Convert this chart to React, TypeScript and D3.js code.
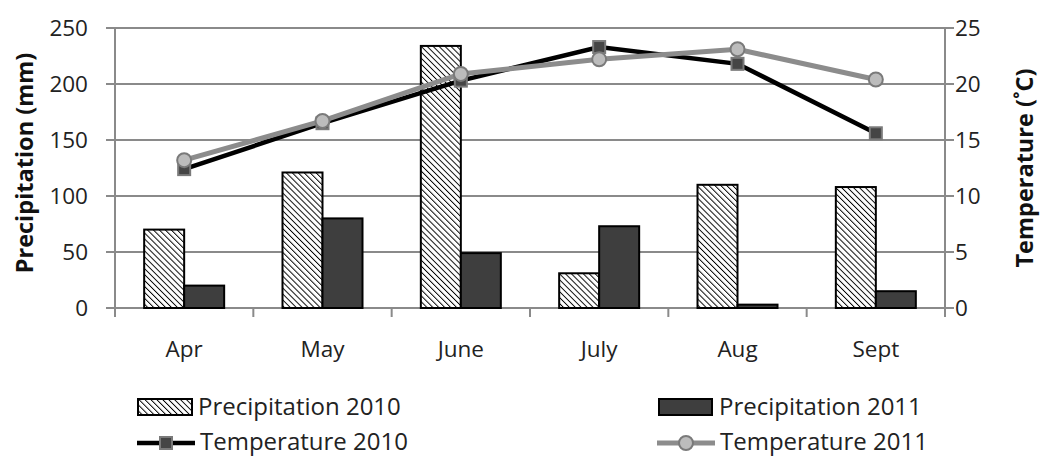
import React from "react";
import * as d3 from "d3";

const months = ["Apr", "May", "June", "July", "Aug", "Sept"];
const precip2010 = [70, 121, 234, 31, 110, 108];
const precip2011 = [20, 80, 49, 73, 3, 15];
const temp2010 = [12.4, 16.5, 20.3, 23.3, 21.8, 15.6];
const temp2011 = [13.2, 16.7, 20.9, 22.2, 23.1, 20.4];
const precipTicks = [0, 50, 100, 150, 200, 250];
const tempTicks = [0, 5, 10, 15, 20, 25];

const W = 1040, H = 456;
const L = 115, R = 945, T = 28, B = 308;
const FONT = "'Open Sans', Lato, 'Liberation Sans', sans-serif";

export default function App() {
  const x = d3.scaleBand<string>().domain(months).range([L, R]);
  const yP = d3.scaleLinear().domain([0, 250]).range([B, T]);
  const yT = d3.scaleLinear().domain([0, 25]).range([B, T]);
  const bw = 40;
  const cx = (m: string) => (x(m) as number) + x.bandwidth() / 2;
  const line = d3.line<number>().x((_, i) => cx(months[i])).y((d) => yT(d));

  return (
    <svg width={W} height={H} style={{ position: "absolute", left: 0, top: 0 }} fontFamily={FONT}>
      <defs>
        <pattern id="hatch" patternUnits="userSpaceOnUse" width="4.2" height="4.2" patternTransform="rotate(-45)">
          <rect width="4.2" height="4.2" fill="#fff" />
          <line x1="0" y1="0" x2="0" y2="4.2" stroke="#000" strokeWidth="1.9" />
        </pattern>
      </defs>
      <rect width={W} height={H} fill="#fff" />
      {/* gridlines */}
      {precipTicks.map((t) => (
        <line key={t} x1={L - 9} x2={R + 9} y1={yP(t)} y2={yP(t)} stroke="#8a8a8a" strokeWidth={2} />
      ))}
      <line x1={L} x2={L} y1={T} y2={B} stroke="#8a8a8a" strokeWidth={2} />
      <line x1={R} x2={R} y1={T} y2={B} stroke="#8a8a8a" strokeWidth={2} />
      {d3.range(months.length + 1).map((i) => {
        const xx = L + i * x.step();
        return <line key={i} x1={xx} x2={xx} y1={B} y2={B + 9} stroke="#8a8a8a" strokeWidth={2} />;
      })}
      {/* ticks */}
      {precipTicks.map((t) => (
        <text key={t} x={L - 27} y={yP(t)} dy="0.36em" textAnchor="end" fontSize={22.5} fill="#222">{t}</text>
      ))}
      {tempTicks.map((t) => (
        <text key={t} x={R + 10} y={yT(t)} dy="0.36em" textAnchor="start" fontSize={22.5} fill="#222">{t}</text>
      ))}
      {months.map((m) => (
        <text key={m} x={cx(m)} y={357} textAnchor="middle" fontSize={22.5} fill="#222">{m}</text>
      ))}
      <text transform={`translate(33,${163}) rotate(-90)`} textAnchor="middle" fontSize={23.5} fontWeight="bold" fill="#111">Precipitation (mm)</text>
      <text transform={`translate(1033,${168}) rotate(-90)`} textAnchor="middle" fontSize={23.5} fontWeight="bold" fill="#111">Temperature (˚C)</text>
      {/* bars */}
      {months.map((m, i) => (
        <g key={m}>
          <rect x={cx(m) - bw} y={yP(precip2010[i])} width={bw} height={B - yP(precip2010[i])} fill="url(#hatch)" stroke="#000" strokeWidth={2} />
          <rect x={cx(m)} y={yP(precip2011[i])} width={bw} height={B - yP(precip2011[i])} fill="#3e3e3e" stroke="#000" strokeWidth={2} />
        </g>
      ))}
      {/* lines */}
      <path d={line(temp2010) || ""} fill="none" stroke="#000" strokeWidth={4.5} />
      {temp2010.map((v, i) => (
        <rect key={i} x={cx(months[i]) - 6} y={yT(v) - 6} width={12} height={12} fill="#454545" stroke="#7a7a7a" strokeWidth={2} />
      ))}
      <path d={line(temp2011) || ""} fill="none" stroke="#8c8c8c" strokeWidth={5} />
      {temp2011.map((v, i) => (
        <circle key={i} cx={cx(months[i])} cy={yT(v)} r={7} fill="#bcbcbc" stroke="#7a7a7a" strokeWidth={2} />
      ))}
      {/* legend */}
      <rect x={138} y={399} width={54} height={16} fill="url(#hatch)" stroke="#000" strokeWidth={2} />
      <text x={198} y={415} fontSize={24} fill="#222">Precipitation 2010</text>
      <rect x={659} y={399} width={53} height={16} fill="#3e3e3e" stroke="#000" strokeWidth={2} />
      <text x={719} y={415} fontSize={24} fill="#222">Precipitation 2011</text>
      <line x1={137} x2={195} y1={443} y2={443} stroke="#000" strokeWidth={4.5} />
      <rect x={160} y={437} width={12} height={12} fill="#454545" stroke="#7a7a7a" strokeWidth={2} />
      <text x={200} y={450} fontSize={24} fill="#222">Temperature 2010</text>
      <line x1={657} x2={715} y1={443} y2={443} stroke="#8c8c8c" strokeWidth={5} />
      <circle cx={686} cy={443} r={7} fill="#bcbcbc" stroke="#7a7a7a" strokeWidth={2} />
      <text x={720} y={450} fontSize={24} fill="#222">Temperature 2011</text>
    </svg>
  );
}
